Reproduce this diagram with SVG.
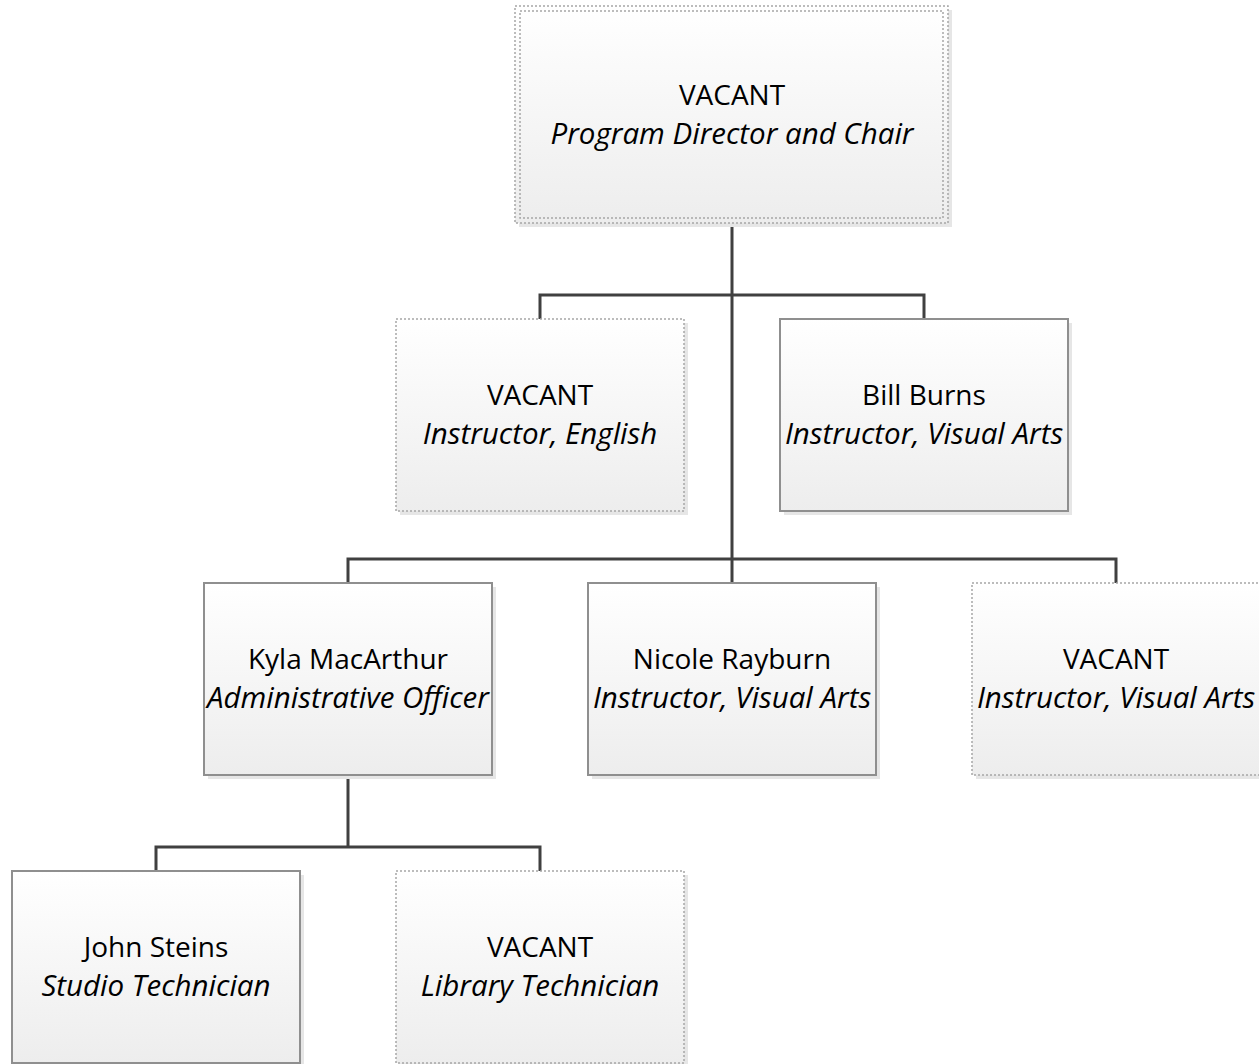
<svg xmlns="http://www.w3.org/2000/svg" width="1259" height="1064" viewBox="0 0 1259 1064">
<defs>
<linearGradient id="g" x1="0" y1="0" x2="0" y2="1">
<stop offset="0" stop-color="#ffffff"/>
<stop offset="1" stop-color="#ededed"/>
</linearGradient>
<style>
.sh{fill:#e6e6e6;}
.solid{fill:url(#g);stroke:#8f8f8f;stroke-width:2;}
.dot{fill:url(#g);stroke:#a6a6a6;stroke-width:1.5;stroke-dasharray:2 2;}
.dotline{fill:none;stroke:#a6a6a6;stroke-width:1.5;stroke-dasharray:2 2;}
.t1{font-family:"Open Sans","Liberation Sans",sans-serif;font-size:28px;fill:#000;text-anchor:middle;}
.t2{font-family:"Open Sans","Liberation Sans",sans-serif;font-size:29.5px;font-style:italic;fill:#000;text-anchor:middle;}
.c{fill:none;stroke:#404040;stroke-width:3;}
</style>
</defs>
<rect width="1259" height="1064" fill="#ffffff"/>
<g id="connectors">
<path class="c" d="M732 223 V583"/>
<path class="c" d="M540 319 V295 H924 V319"/>
<path class="c" d="M348 583 V559 H1116 V583"/>
<path class="c" d="M348 775 V847"/>
<path class="c" d="M156 871 V847 H540 V871"/>
</g>
<g id="n-director">
<rect class="sh" x="519" y="10" width="433" height="217"/>
<rect x="515" y="6" width="433" height="217" fill="url(#g)"/>
<rect class="dotline" x="515" y="6" width="433" height="217"/>
<rect class="dotline" x="520" y="11" width="423" height="207"/>
<text class="t1" x="732" y="105">VACANT</text>
<text class="t2" x="732" y="144">Program Director and Chair</text>
</g>
<g id="n-english">
<rect class="sh" x="400" y="323" width="288" height="192"/>
<rect class="dot" x="396" y="319" width="288" height="192"/>
<text class="t1" x="540" y="405">VACANT</text>
<text class="t2" x="540" y="444">Instructor, English</text>
</g>
<g id="n-burns">
<rect class="sh" x="784" y="323" width="288" height="192"/>
<rect class="solid" x="780" y="319" width="288" height="192"/>
<text class="t1" x="924" y="405">Bill Burns</text>
<text class="t2" x="924" y="444">Instructor, Visual Arts</text>
</g>
<g id="n-kyla">
<rect class="sh" x="208" y="587" width="288" height="192"/>
<rect class="solid" x="204" y="583" width="288" height="192"/>
<text class="t1" x="348" y="669">Kyla MacArthur</text>
<text class="t2" x="348" y="708">Administrative Officer</text>
</g>
<g id="n-nicole">
<rect class="sh" x="592" y="587" width="288" height="192"/>
<rect class="solid" x="588" y="583" width="288" height="192"/>
<text class="t1" x="732" y="669">Nicole Rayburn</text>
<text class="t2" x="732" y="708">Instructor, Visual Arts</text>
</g>
<g id="n-vacant-va">
<rect class="sh" x="976" y="587" width="288" height="192"/>
<rect class="dot" x="972" y="583" width="288" height="192"/>
<text class="t1" x="1116" y="669">VACANT</text>
<text class="t2" x="1116" y="708">Instructor, Visual Arts</text>
</g>
<g id="n-steins">
<rect class="sh" x="16" y="875" width="288" height="192"/>
<rect class="solid" x="12" y="871" width="288" height="192"/>
<text class="t1" x="156" y="957">John Steins</text>
<text class="t2" x="156" y="996">Studio Technician</text>
</g>
<g id="n-library">
<rect class="sh" x="400" y="875" width="288" height="192"/>
<rect class="dot" x="396" y="871" width="288" height="192"/>
<text class="t1" x="540" y="957">VACANT</text>
<text class="t2" x="540" y="996">Library Technician</text>
</g>
</svg>
